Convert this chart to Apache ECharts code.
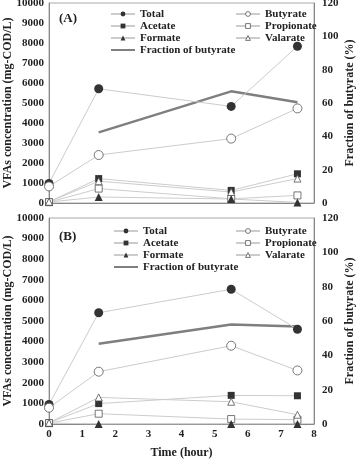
<!DOCTYPE html>
<html>
<head>
<meta charset="utf-8">
<script src="https://cdn.jsdelivr.net/npm/echarts@6/dist/echarts.min.js"></script>
<style>
html, body { margin: 0; padding: 0; background: #fff; }
#chart { width: 356px; height: 460px; }
</style>
</head>
<body>
<div id="chart"></div>
<script>
var times = [0, 1.5, 5.5, 7.5];
var fracTimes = [1.5, 5.5, 7.5];

// panel A
var totalA = [980, 5710, 4830, 7840];
var butyrateA = [830, 2400, 3220, 4730];
var acetateA = [60, 1220, 630, 1460];
var propionateA = [40, 720, 210, 380];
var formateA = [50, 300, 200, 30];
var valarateA = [60, 1090, 550, 1220];
var fractionA = [42.4, 67, 60.4];

// panel B
var totalB = [950, 5400, 6540, 4600];
var butyrateB = [790, 2540, 3800, 2600];
var acetateB = [60, 990, 1390, 1370];
var propionateB = [40, 500, 240, 210];
var formateB = [50, 0, 0, 0];
var valarateB = [60, 1290, 1080, 450];
var fractionB = [46.7, 58, 56.8];

var fnt = 'Liberation Serif';
var dark = '#333333';
var thin = '#cccccc';
var hollowStyle = { color: '#fff', borderColor: '#555', borderWidth: 0.8 };
var solidStyle = { color: dark, borderColor: dark, borderWidth: 0 };

var pairs = function(xs, ys){
	return xs.map(function(x, i){ return [x, ys[i]]; });
};

var mkSeries = function(name, idx, ys, symbol, size, hollow){
	return {
		name: name,
		type: 'line',
		xAxisIndex: idx,
		yAxisIndex: idx * 2,
		data: pairs(times, ys),
		symbol: symbol,
		symbolSize: size,
		lineStyle: { color: thin, width: 1 },
		itemStyle: hollow ? hollowStyle : solidStyle,
		z: 3
	};
};

var mkFraction = function(idx, ys){
	return {
		name: 'Fraction of butyrate',
		type: 'line',
		xAxisIndex: idx,
		yAxisIndex: idx * 2 + 1,
		data: pairs(fracTimes, ys),
		symbol: 'none',
		lineStyle: { color: '#7f7f7f', width: 2.5 },
		itemStyle: { color: '#7f7f7f' },
		z: 2
	};
};

var panelSeries = function(idx, t, b, a, p, f, v, fr){
	return [
		mkSeries('Total', idx, t, 'circle', 9, false),
		mkSeries('Butyrate', idx, b, 'circle', 9, true),
		mkSeries('Acetate', idx, a, 'rect', 7, false),
		mkSeries('Propionate', idx, p, 'rect', 7, true),
		mkSeries('Formate', idx, f, 'triangle', 8, false),
		mkSeries('Valarate', idx, v, 'triangle', 7, true),
		mkFraction(idx, fr)
	];
};

var legendStyle = {
	orient: 'vertical',
	selectedMode: false,
	itemWidth: 24,
	itemHeight: 6,
	itemGap: 0,
	textStyle: { fontFamily: fnt, fontWeight: 'bold', fontSize: 11, color: '#222', lineHeight: 12 }
};
var mkLegend = function(names, left, top){
	return Object.assign({ data: names, left: left, top: top }, legendStyle);
};
var fracItem = { name: 'Fraction of butyrate', icon: 'path://M0,0 L24,0 L24,2 L0,2 Z', itemStyle: { color: '#7f7f7f' } };
var leftItems = ['Total', 'Acetate', 'Formate', fracItem];
var rightItems = [
	{ name: 'Butyrate', itemStyle: hollowStyle },
	{ name: 'Propionate', itemStyle: hollowStyle },
	{ name: 'Valarate', itemStyle: hollowStyle }
];

var plainNum = function(v){ return String(v); };

var leftAxis = function(idx){
	return {
		type: 'value',
		gridIndex: idx,
		min: 0, max: 10000, interval: 1000,
		name: 'VFAs concentration (mg-COD/L)',
		nameLocation: 'middle',
		nameGap: 35,
		nameMoveOverlap: false,
		nameTextStyle: { fontFamily: fnt, fontWeight: 'bold', fontSize: 12, color: '#222' },
		axisLine: { show: true, lineStyle: { color: '#888' } },
		axisTick: { show: false },
		splitLine: { show: false },
		axisLabel: { formatter: plainNum, fontFamily: fnt, fontWeight: 'bold', fontSize: 11, color: '#222', margin: 5 }
	};
};
var rightAxis = function(idx){
	return {
		type: 'value',
		gridIndex: idx,
		position: 'right',
		min: 0, max: 120, interval: 20,
		name: 'Fraction of butyrate (%)',
		nameLocation: 'middle',
		nameRotate: 90,
		nameGap: 30,
		nameMoveOverlap: false,
		nameTextStyle: { fontFamily: fnt, fontWeight: 'bold', fontSize: 12, color: '#222' },
		axisLine: { show: true, lineStyle: { color: '#888' } },
		axisTick: { show: false },
		splitLine: { show: false },
		axisLabel: { fontFamily: fnt, fontWeight: 'bold', fontSize: 11, color: '#222', margin: 8 }
	};
};
var xAxisCfg = function(idx, labels){
	return {
		type: 'value',
		gridIndex: idx,
		min: 0, max: 8, interval: 1,
		name: labels ? 'Time (hour)' : '',
		nameLocation: 'middle',
		nameGap: 23,
		nameMoveOverlap: false,
		nameTextStyle: { fontFamily: fnt, fontWeight: 'bold', fontSize: 12, color: '#222' },
		axisLine: { show: true, onZero: false, lineStyle: { color: '#888' } },
		axisTick: { show: false },
		splitLine: { show: false },
		axisLabel: { show: labels, fontFamily: fnt, fontWeight: 'bold', fontSize: 11, color: '#222', margin: 5 }
	};
};

var dom = document.getElementById('chart');
var myChart = echarts.init(dom);
var option = {
	backgroundColor: '#fff',
	animation: false,
	title: [
		{ text: '(A)', left: 54, top: 7, textStyle: { fontFamily: fnt, fontWeight: 'bold', fontSize: 13, color: '#222' } },
		{ text: '(B)', left: 54, top: 225, textStyle: { fontFamily: fnt, fontWeight: 'bold', fontSize: 13, color: '#222' } }
	],
	legend: [
		mkLegend(leftItems, 105, 3),
		mkLegend(rightItems, 230, 3),
		mkLegend(leftItems, 108, 220),
		mkLegend(rightItems, 230, 220)
	],
	grid: [
		{ left: 49, right: 42, top: 3, height: 200, outerBoundsMode: 'none', show: true, borderColor: '#aaa', borderWidth: 1 },
		{ left: 49, right: 42, top: 218, height: 206, outerBoundsMode: 'none', show: true, borderColor: '#aaa', borderWidth: 1 }
	],
	xAxis: [xAxisCfg(0, false), xAxisCfg(1, true)],
	yAxis: [leftAxis(0), rightAxis(0), leftAxis(1), rightAxis(1)],
	series: panelSeries(0, totalA, butyrateA, acetateA, propionateA, formateA, valarateA, fractionA)
		.concat(panelSeries(1, totalB, butyrateB, acetateB, propionateB, formateB, valarateB, fractionB))
};
if (option && typeof option === "object") {
	myChart.setOption(option, true);
}
</script>
</body>
</html>
